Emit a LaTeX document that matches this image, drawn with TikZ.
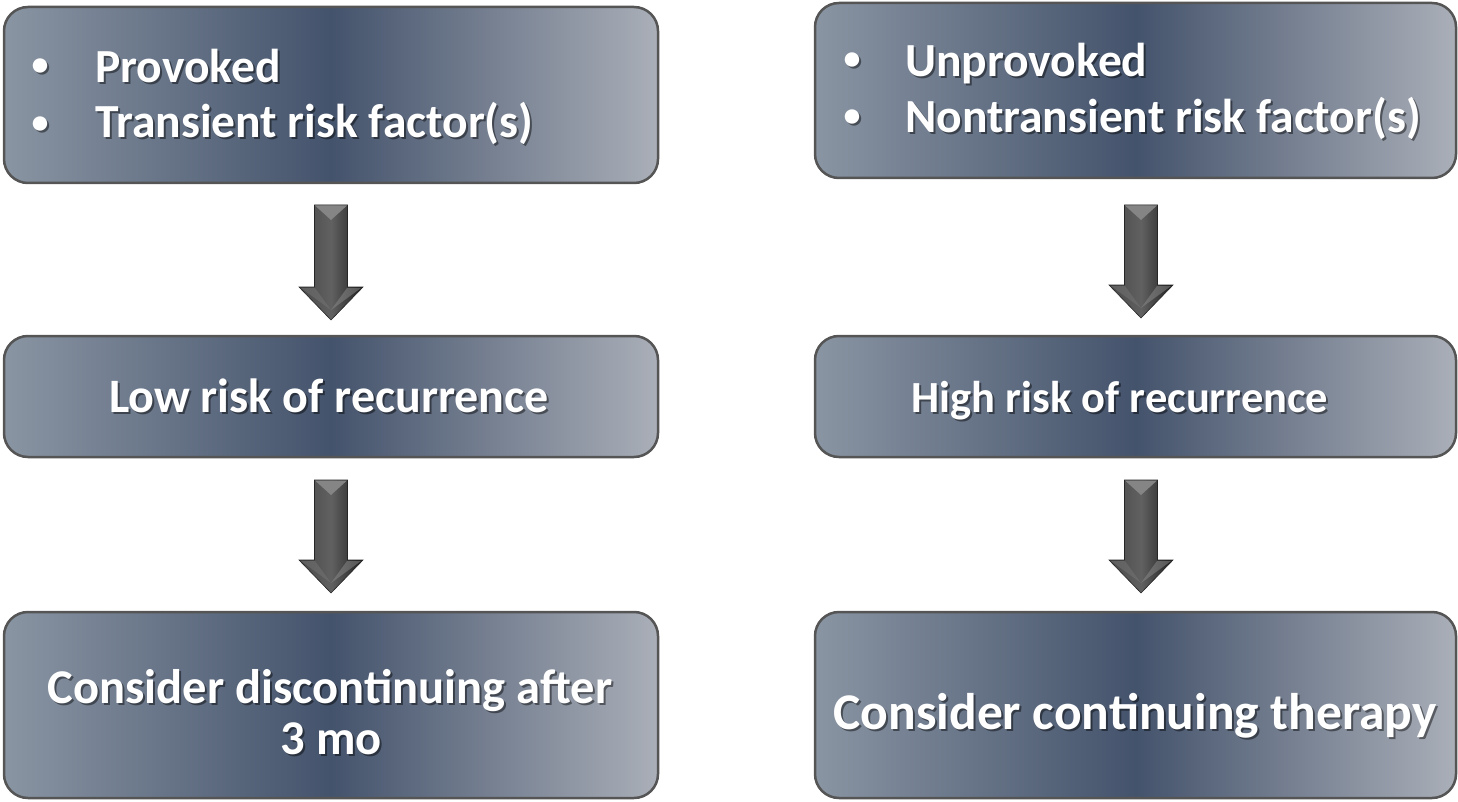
\documentclass[tikz,border=0pt]{standalone}
\usepackage{fontspec}
\setmainfont{Carlito}
\usetikzlibrary{calc}
\definecolor{boxL}{RGB}{138,149,163}
\definecolor{boxM}{RGB}{68,83,108}
\definecolor{boxR}{RGB}{170,175,184}
\definecolor{boxedge}{RGB}{85,85,85}
\tikzset{
  flowbox/.style={draw=boxedge, line width=2.5pt, rounded corners=24pt,
    left color=boxL, right color=boxR, middle color=boxM, inner sep=0pt},
  txt/.style={text=white, font=\bfseries\fontsize{#1}{#1}\selectfont, inner sep=0pt},
  shd/.style={text=black, text opacity=0.45, font=\bfseries\fontsize{#1}{#1}\selectfont, inner sep=0pt},
  arrowbody/.style={left color=black!72, right color=black!88, middle color=black!62, draw=black!85, line width=0.6pt},
  bevel/.style={fill=black!48},
}
\newcommand{\myblockarrow}[2]{%
  \path[arrowbody] let \p1=(#1), \p2=(#2) in
    (\x1-16.5pt,\y1) -- (\x1+16.5pt,\y1) -- (\x1+16.5pt,\y2+33pt) -- (\x1+32pt,\y2+33pt)
    -- (\x2,\y2) -- (\x1-32pt,\y2+33pt) -- (\x1-16.5pt,\y2+33pt) -- cycle;
  \path[bevel] let \p1=(#1) in
    (\x1-16pt,\y1-0.5pt) -- (\x1+16pt,\y1-0.5pt) -- (\x1,\y1-15pt) -- cycle;
  \path[fill=black!55, opacity=0.55] let \p1=(#1), \p2=(#2) in
    (\x1-30pt,\y2+32pt) -- (\x1-16pt,\y2+32pt) -- (\x2,\y2+10pt) -- cycle;
  \path[fill=black!45, opacity=0.5] let \p1=(#1), \p2=(#2) in
    (\x1+16pt,\y2+32pt) -- (\x1+30pt,\y2+32pt) -- (\x2,\y2+10pt) -- cycle;
}
\newcommand{\stxt}[5]{% name, anchor, position, size, text
  \node[shd=#4, anchor=#2] (#1s) at ($(#3)+(2,2)$) {#5};
  \node[txt=#4, anchor=#2] (#1) at (#3) {#5};
}
\begin{document}
\begin{tikzpicture}[x=1pt,y=-1pt]
\useasboundingbox (0,0) rectangle (1458,802);
% boxes
\node[flowbox, minimum width=654pt, minimum height=176pt] (tl) at (331,95) {};
\node[flowbox, minimum width=641pt, minimum height=175pt] (tr) at (1135.5,90.5) {};
\node[flowbox, minimum width=654pt, minimum height=121pt] (ml) at (331,396.5) {};
\node[flowbox, minimum width=641pt, minimum height=121pt] (mr) at (1135.5,396.5) {};
\node[flowbox, minimum width=654pt, minimum height=186pt] (bl) at (331,705) {};
\node[flowbox, minimum width=641pt, minimum height=186pt] (br) at (1135.5,705) {};
% arrows
\coordinate (a1t) at (331,205);  \coordinate (a1b) at (331,320);
\coordinate (a2t) at (331,480);  \coordinate (a2b) at (331,593);
\coordinate (a3t) at (1141,205); \coordinate (a3b) at (1141,318);
\coordinate (a4t) at (1141,480); \coordinate (a4b) at (1141,593);
\myblockarrow{a1t}{a1b}
\myblockarrow{a2t}{a2b}
\myblockarrow{a3t}{a3b}
\myblockarrow{a4t}{a4b}
% texts top-left
\coordinate (p1) at (40,67);  \coordinate (p2) at (95,83);
\coordinate (p3) at (40,125); \coordinate (p4) at (95,138);
\stxt{b1}{center}{p1}{34}{•}
\stxt{t1}{base west}{p2}{47.5}{Provoked}
\stxt{b2}{center}{p3}{34}{•}
\stxt{t2}{base west}{p4}{47.5}{Transient risk factor(s)}
% texts top-right
\coordinate (q1) at (852,61);  \coordinate (q2) at (905,77);
\coordinate (q3) at (852,118); \coordinate (q4) at (905,133);
\stxt{b3}{center}{q1}{34}{•}
\stxt{t3}{base west}{q2}{47.5}{Unprovoked}
\stxt{b4}{center}{q3}{34}{•}
\stxt{t4}{base west}{q4}{47.5}{Nontransient risk factor(s)}
% middle
\coordinate (m1) at (329,412); \coordinate (m2) at (1120,412);
\stxt{t5}{base}{m1}{48}{Low risk of recurrence}
\stxt{t6}{base}{m2}{44.5}{High risk of recurrence}
% bottom
\coordinate (c1) at (330,703); \coordinate (c2) at (331,754); \coordinate (c3) at (1135,729);
\stxt{t7}{base}{c1}{48.5}{Consider discontinuing after}
\stxt{t8}{base}{c2}{48.5}{3 mo}
\stxt{t9}{base}{c3}{51.5}{Consider continuing therapy}
\end{tikzpicture}
\end{document}
